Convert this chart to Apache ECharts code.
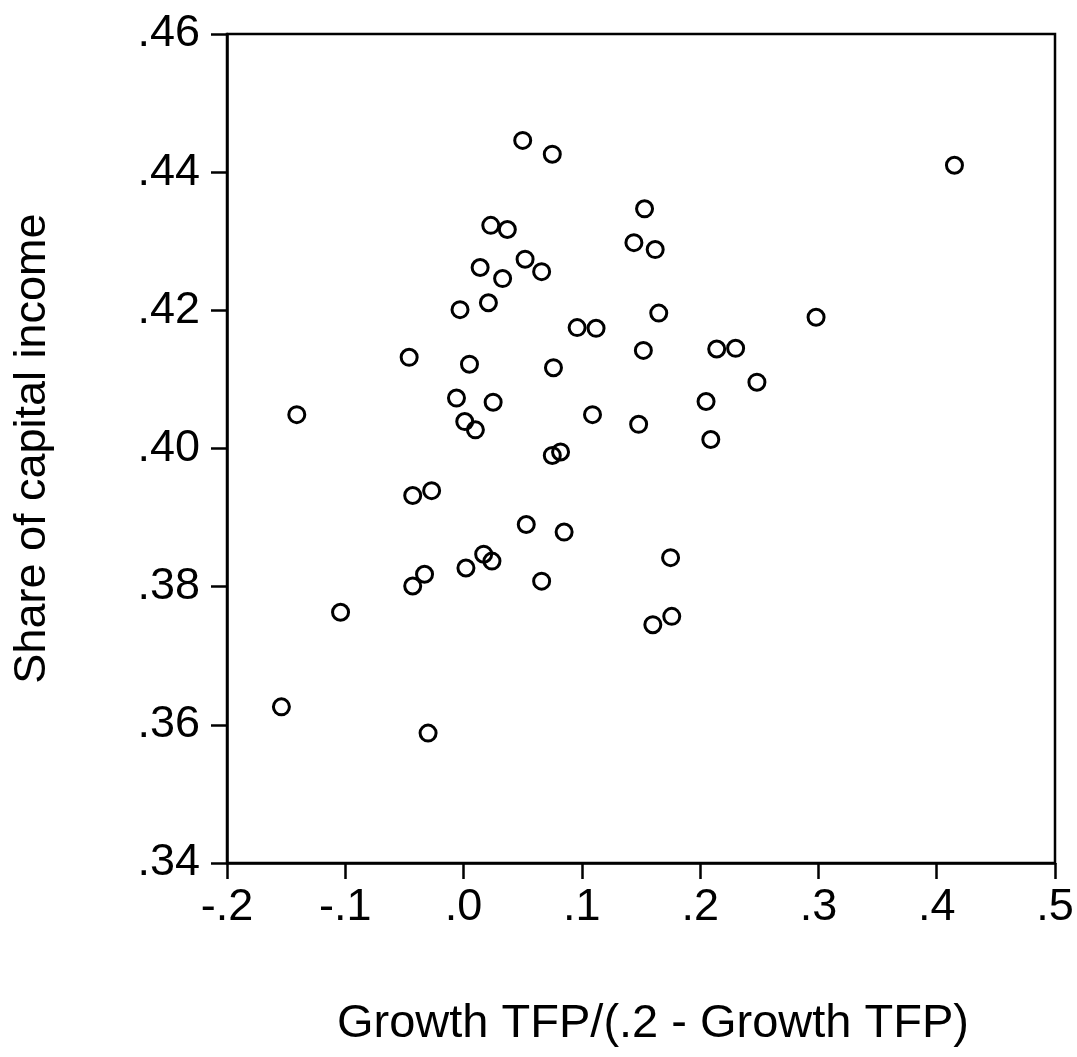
<!DOCTYPE html>
<html>
<head>
<meta charset="utf-8">
<script src="https://cdn.jsdelivr.net/npm/echarts@6/dist/echarts.min.js"></script>
<style>
  html, body { margin: 0; padding: 0; background: #fff; }
  #main { width: 1077px; height: 1057px; }
</style>
</head>
<body>
<div id="main"></div>
<script>
// growth TFP / (.2 - growth TFP)
var growthRatio = [
    0.050, 0.075, 0.415, 0.153, 0.023, 0.037, 0.144, 0.162, 0.014, 0.052,
    0.066, 0.033, -0.003, 0.021, 0.165, 0.298, 0.096, 0.112, -0.046, 0.005,
    0.152, 0.214, 0.230, 0.248, 0.076, -0.006, 0.025, 0.205, -0.141, 0.109,
    0.001, 0.010, 0.148, 0.209, 0.075, 0.082, -0.043, -0.027, 0.053, 0.085,
    0.017, 0.024, 0.175, -0.033, 0.002, -0.043, 0.066, -0.104, 0.176, 0.160,
    -0.154, -0.030
];
// share of capital income
var capitalShare = [
    0.4446, 0.4426, 0.4410, 0.4347, 0.4323, 0.4317, 0.4298, 0.4288, 0.4262, 0.4274,
    0.4256, 0.4246, 0.4201, 0.4211, 0.4196, 0.4190, 0.4175, 0.4174, 0.4132, 0.4122,
    0.4142, 0.4144, 0.4145, 0.4096, 0.4117, 0.4073, 0.4067, 0.4068, 0.4049, 0.4049,
    0.4039, 0.4027, 0.4035, 0.4013, 0.3990, 0.3995, 0.3932, 0.3939, 0.3890, 0.3879,
    0.3847, 0.3837, 0.3842, 0.3818, 0.3827, 0.3801, 0.3808, 0.3763, 0.3757, 0.3745,
    0.3626, 0.3588
];
var xTickLabels = ['-.2', '-.1', '.0', '.1', '.2', '.3', '.4', '.5'];
var yTickLabels = ['.34', '.36', '.38', '.40', '.42', '.44', '.46'];

var points = growthRatio.map(function (x, i) {
    return [x, capitalShare[i]];
});

var font = 'Arial, "Liberation Sans", sans-serif';

var myChart = echarts.init(document.getElementById('main'));
var option = {
    animation: false,
    backgroundColor: '#fff',
    grid: {
        left: 227,
        top: 34,
        right: 22,
        bottom: 194,
        show: true,
        borderColor: '#000',
        borderWidth: 2.5
    },
    xAxis: {
        type: 'value',
        min: -0.2,
        max: 0.5,
        interval: 0.1,
        name: 'Growth TFP/(.2 - Growth TFP)',
        nameLocation: 'middle',
        nameGap: 138,
        nameTextStyle: { fontFamily: font, fontSize: 47, color: '#000', padding: [0, 0, 0, 24] },
        axisLine: { onZero: false, lineStyle: { color: '#000', width: 2.5 } },
        axisTick: { show: true, length: 16, lineStyle: { color: '#000', width: 2.5 } },
        axisLabel: {
            margin: 22,
            fontFamily: font,
            fontSize: 45,
            color: '#000',
            formatter: function (v) {
                return xTickLabels[Math.round((v + 0.2) / 0.1)];
            }
        },
        splitLine: { show: false }
    },
    yAxis: {
        type: 'value',
        min: 0.34,
        max: 0.46,
        interval: 0.02,
        name: 'Share of capital income',
        nameLocation: 'middle',
        nameGap: 172,
        nameTextStyle: { fontFamily: font, fontSize: 45, color: '#000' },
        axisLine: { onZero: false, lineStyle: { color: '#000', width: 2.5 } },
        axisTick: { show: true, length: 16, lineStyle: { color: '#000', width: 2.5 } },
        axisLabel: {
            margin: 27,
            fontFamily: font,
            fontSize: 45,
            color: '#000',
            padding: [0, 0, 12, 0],
            formatter: function (v) {
                return yTickLabels[Math.round((v - 0.34) / 0.02)];
            }
        },
        splitLine: { show: false }
    },
    series: [{
        type: 'scatter',
        data: points,
        symbol: 'circle',
        symbolSize: 16,
        itemStyle: {
            color: 'rgba(0,0,0,0)',
            borderColor: '#000',
            borderWidth: 3,
            opacity: 1
        },
        emphasis: { disabled: true }
    }]
};
myChart.setOption(option);
</script>
</body>
</html>
